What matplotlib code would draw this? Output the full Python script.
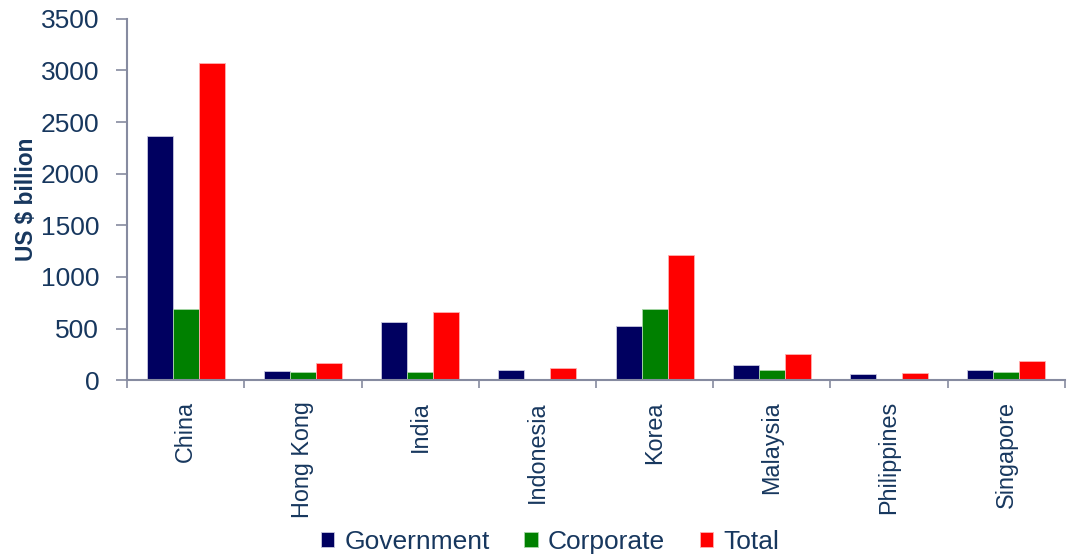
import numpy as np
import matplotlib.pyplot as plt

# bond markets outstanding, US$ bn
countries = ['China', 'Hong Kong', 'India', 'Indonesia', 'Korea', 'Malaysia', 'Philippines', 'Singapore']
government = [2370, 87, 559, 100, 520, 148, 58, 100]
corporate = [690, 75, 84, 10, 685, 100, 10, 81]
total = [3070, 162, 656, 116, 1212, 255, 71, 184]

text_col = '#17375E'
axis_col = '#868BA0'

plt.rcParams['font.family'] = ['Liberation Sans', 'DejaVu Sans']

fig = plt.figure(figsize=(10.68, 5.55), dpi=100)
ax = fig.add_axes([0.119, 0.315, 0.878, 0.651])

x = np.arange(len(countries))
w = 0.222
ax.bar(x - w, government, w, color='#000060', edgecolor='#C8C8E0', linewidth=0.6, label='Government')
ax.bar(x, corporate, w, color='#008000', edgecolor='#A8D8A8', linewidth=0.6, label='Corporate')
ax.bar(x + w, total, w, color='#FF0000', edgecolor='#FFB0B0', linewidth=0.6, label='Total')

ax.set_xlim(-0.5, len(countries) - 0.5)
ax.set_ylim(0, 3500)
ax.set_yticks(range(0, 3501, 500))

ax.set_xticks(x)
ax.set_xticklabels(countries, rotation=90, fontsize=16.8, color=text_col)
ax.set_xticks(np.arange(-0.5, len(countries)), minor=True)
ax.tick_params(axis='x', which='major', length=0, pad=15)
ax.tick_params(axis='x', which='minor', length=6, width=1.2, color=axis_col, direction='out')
ax.tick_params(axis='y', length=8, width=1.2, color=axis_col, labelsize=19, labelcolor=text_col, pad=12)

for s in ['top', 'right']:
    ax.spines[s].set_visible(False)
for s in ['left', 'bottom']:
    ax.spines[s].set_color(axis_col)
    ax.spines[s].set_linewidth(1.5)

ax.set_ylabel('US $ billion', fontsize=16.3, fontweight='bold', color=text_col, labelpad=2)

fig.legend(loc='lower center', bbox_to_anchor=(0.515, -0.041), ncol=3, frameon=False,
           fontsize=19, handlelength=0.5, handleheight=0.5, handletextpad=0.4,
           columnspacing=1.3, labelcolor=text_col)

fig.savefig('out.png', dpi=100)
